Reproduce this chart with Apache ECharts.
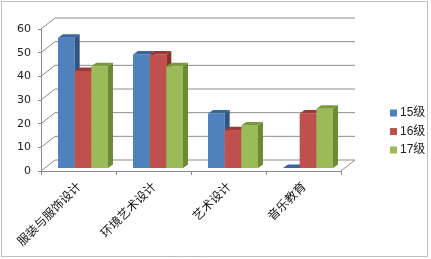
<!DOCTYPE html>
<html><head><meta charset="utf-8">
<script src="https://cdn.jsdelivr.net/npm/echarts@6/dist/echarts.min.js"></script>
<style>html,body{margin:0;padding:0;background:#fff}#c{width:431px;height:259px}</style>
</head><body><div id="c"></div>
<script>
var categories = ['服装与服饰设计', '环境艺术设计', '艺术设计', '音乐教育'];
var seriesNames = ['15级', '16级', '17级'];
var s15 = [55, 48, 23, 0];
var s16 = [41, 48, 16, 23];
var s17 = [43, 43, 18, 25];
var yTicks = [0, 10, 20, 30, 40, 50, 60];

var colors = ['#4f81bd', '#c0504d', '#9bbb59'];
var darks = ['#2f5486', '#8a2f2d', '#6a8a33'];
var tops = ['#3a649c', '#9c3936', '#7a9a3e'];
var WALL_DX = 14, WALL_DY = -11;
var BAR_DX = 4.5, BAR_DY = -3, DEP_X = 5, DEP_Y = -3.5;

function barRender(params, api) {
  var si = params.seriesIndex - 1;
  var c = api.value(0), v = api.value(1);
  var top = api.coord([c, v]);
  var base = api.coord([c, 0]);
  var catW = api.size([1, 0])[0];
  var bw = catW * 0.222;
  var x0 = top[0] - 1.5 * bw + BAR_DX + si * bw;
  var yt = top[1] + BAR_DY, yb = base[1] + BAR_DY;
  var children = [];
  if (yb - yt > 0.5) {
    children.push({type: 'rect', shape: {x: x0, y: yt, width: bw, height: yb - yt}, style: {fill: colors[si]}});
    children.push({type: 'polygon', shape: {points: [[x0 + bw, yt], [x0 + bw + DEP_X, yt + DEP_Y], [x0 + bw + DEP_X, yb + DEP_Y], [x0 + bw, yb]]}, style: {fill: darks[si]}});
  }
  children.push({type: 'polygon', shape: {points: [[x0, yt], [x0 + bw, yt], [x0 + bw + DEP_X, yt + DEP_Y], [x0 + DEP_X, yt + DEP_Y]]}, style: {fill: tops[si]}});
  return {type: 'group', children: children};
}

function wallRender(params, api) {
  var t = api.value(1);
  var p = api.coord([0, t]);
  var cs = params.coordSys;
  var xl = cs.x, xr = cs.x + cs.width, y = p[1];
  var children = [{type: 'polyline', shape: {points: [[xl, y], [xl + WALL_DX, y + WALL_DY], [xr + WALL_DX, y + WALL_DY]]}, style: {stroke: '#8c8c8c', lineWidth: 1, fill: null}}];
  if (t === 0) {
    children.push({type: 'line', shape: {x1: xr, y1: y, x2: xr + WALL_DX, y2: y + WALL_DY}, style: {stroke: '#8c8c8c', lineWidth: 1}});
  }
  return {type: 'group', children: children};
}

function mk(arr) { return arr.map(function (v, i) { return [i, v]; }); }

var chart = echarts.init(document.getElementById('c'), null, {renderer: 'canvas'});
chart.setOption({
  animation: false,
  color: colors,
  graphic: [{type: 'rect', shape: {x: 1.5, y: 1.5, width: 426, height: 255}, style: {fill: null, stroke: '#808080', lineWidth: 1, lineDash: [1, 1]}, z: 100}],
  grid: {left: 41, top: 29, width: 300, height: 142},
  legend: {
    orient: 'vertical', left: 385, top: 102, itemWidth: 7, itemHeight: 7, itemGap: 6.5, icon: 'rect',
    data: seriesNames,
    textStyle: {fontFamily: 'Liberation Sans, Noto Sans CJK SC, sans-serif', fontSize: 12, color: '#222', padding: [0, 0, 0, -2]}
  },
  xAxis: {
    type: 'category', data: categories,
    axisLine: {lineStyle: {color: '#8c8c8c'}},
    axisTick: {show: true, length: 4, lineStyle: {color: '#8c8c8c'}},
    axisLabel: {rotate: 45, margin: 13, interval: 0, fontSize: 12, color: '#111', fontFamily: 'Noto Sans CJK SC'}
  },
  yAxis: {
    type: 'value', min: 0, max: 60, interval: 10,
    axisLine: {show: true, lineStyle: {color: '#8c8c8c'}},
    axisTick: {show: true, length: 3, lineStyle: {color: '#8c8c8c'}},
    splitLine: {show: false},
    axisLabel: {margin: 10, fontSize: 11, color: '#222', fontFamily: 'DejaVu Sans, sans-serif'}
  },
  series: [
    {type: 'custom', name: '_wall', z: 1, silent: true, renderItem: wallRender, data: yTicks.map(function (t) { return [0, t]; }), encode: {x: 0, y: 1}},
    {type: 'custom', name: seriesNames[0], z: 2, renderItem: barRender, data: mk(s15), encode: {x: 0, y: 1}, itemStyle: {color: colors[0]}},
    {type: 'custom', name: seriesNames[1], z: 2, renderItem: barRender, data: mk(s16), encode: {x: 0, y: 1}, itemStyle: {color: colors[1]}},
    {type: 'custom', name: seriesNames[2], z: 2, renderItem: barRender, data: mk(s17), encode: {x: 0, y: 1}, itemStyle: {color: colors[2]}}
  ]
});
</script></body></html>
